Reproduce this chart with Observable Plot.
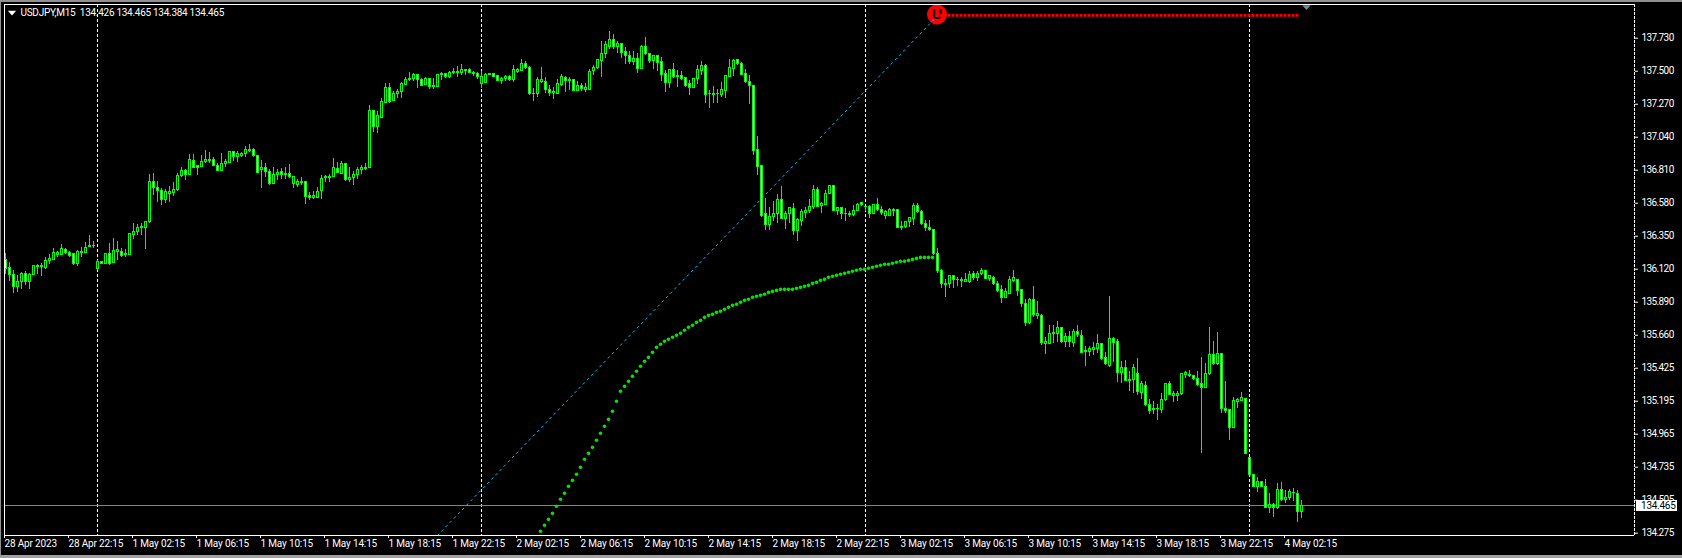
<!DOCTYPE html>
<html><head><meta charset="utf-8">
<script src="https://cdn.jsdelivr.net/npm/d3@7"></script>
<script src="https://cdn.jsdelivr.net/npm/@observablehq/plot@0.6"></script>
<style>
html,body{margin:0;padding:0;background:#000;overflow:hidden}
#wrap{position:relative;width:1682px;height:558px}
#edge{position:absolute;left:0;top:0;width:1682px;height:558px;box-sizing:border-box;border-top:2px solid #909090;border-left:1px solid #909090;border-bottom:3px solid #a0a0a0;pointer-events:none}
svg{display:block}
g[aria-label="y-axis tick label"],g[aria-label="bid label"]{letter-spacing:-0.6px}
g[aria-label="x-axis tick label"]{letter-spacing:-0.16px}
</style></head><body><div id="wrap"><div id="edge"></div></div>
<script>
const open=[
136.186,136.130,136.083,135.995,136.032,136.088,136.032,136.083,136.135,136.135,
136.125,136.176,136.186,136.221,136.218,136.255,136.232,136.223,136.153,136.232,
136.232,136.274,136.279,136.121,136.172,136.158,136.228,136.162,136.239,136.241,
136.216,136.218,136.358,136.381,136.404,136.409,136.446,136.725,136.687,136.664,
136.599,136.646,136.650,136.674,136.771,136.808,136.776,136.873,136.836,136.832,
136.869,136.871,136.883,136.841,136.808,136.855,136.859,136.934,136.901,136.910,
136.920,136.941,136.948,136.910,136.813,136.827,136.799,136.715,136.776,136.799,
136.778,136.785,136.711,136.706,136.718,136.725,136.627,136.618,136.618,136.664,
136.755,136.757,136.762,136.820,136.785,136.850,136.739,136.757,136.776,136.813,
136.818,136.822,137.222,137.110,137.175,137.278,137.380,137.291,137.338,137.352,
137.403,137.436,137.445,137.477,137.440,137.403,137.445,137.387,137.389,137.473,
137.482,137.463,137.487,137.489,137.487,137.501,137.505,137.491,137.482,137.412,
137.417,137.477,137.482,137.468,137.431,137.445,137.463,137.436,137.496,137.501,
137.552,137.524,137.338,137.338,137.426,137.426,137.370,137.347,137.343,137.403,
137.454,137.431,137.436,137.361,137.398,137.366,137.366,137.501,137.519,137.570,
137.617,137.672,137.719,137.668,137.691,137.631,137.607,137.561,137.584,137.514,
137.672,137.621,137.570,137.603,137.561,137.482,137.417,137.510,137.459,137.468,
137.454,137.408,137.380,137.445,137.501,137.533,137.338,137.333,137.338,137.333,
137.361,137.459,137.514,137.575,137.552,137.482,137.426,137.398,136.948,136.836,
136.506,136.427,136.483,136.506,136.599,136.469,136.506,136.543,136.385,136.455,
136.511,136.525,136.553,136.669,136.562,136.571,136.646,136.697,136.525,136.548,
136.504,136.499,136.497,136.525,136.583,136.553,136.557,136.502,136.569,136.534,
136.488,136.490,136.525,136.530,136.409,136.413,136.446,136.469,136.562,136.520,
136.437,136.409,136.395,136.228,136.111,136.011,136.014,136.074,136.042,136.039,
136.032,136.028,136.088,136.056,136.088,136.107,136.051,136.060,136.018,135.977,
135.921,135.949,136.037,136.046,135.972,135.879,135.744,135.907,135.795,135.795,
135.600,135.600,135.668,135.665,135.707,135.614,135.651,135.605,135.679,135.656,
135.540,135.544,135.558,135.563,135.596,135.498,135.442,135.637,135.610,135.396,
135.433,135.340,135.345,135.391,135.256,135.308,135.177,135.140,135.143,135.140,
135.205,135.322,135.238,135.238,135.247,135.384,135.375,135.373,135.356,135.321,
135.294,135.387,135.521,135.456,135.531,135.147,135.136,135.015,135.196,135.201,
135.215,134.806,134.685,134.601,134.634,134.601,134.453,134.480,134.453,134.583,
134.508,134.522,134.557,134.555,134.425];
const close=[
136.121,136.079,135.995,136.032,136.088,136.032,136.083,136.139,136.144,136.144,
136.176,136.193,136.232,136.235,136.260,136.232,136.214,136.153,136.241,136.241,
136.269,136.283,136.283,136.172,136.158,136.228,136.153,136.246,136.251,136.214,
136.223,136.362,136.381,136.409,136.411,136.446,136.729,136.687,136.664,136.604,
136.660,136.660,136.674,136.773,136.808,136.776,136.878,136.827,136.827,136.869,
136.883,136.883,136.841,136.808,136.855,136.864,136.934,136.901,136.920,136.924,
136.948,136.948,136.906,136.794,136.827,136.799,136.715,136.780,136.794,136.776,
136.787,136.762,136.762,136.725,136.725,136.622,136.618,136.627,136.660,136.752,
136.762,136.766,136.822,136.790,136.850,136.739,136.757,136.780,136.813,136.822,
136.827,137.226,137.110,137.185,137.282,137.380,137.287,137.343,137.357,137.408,
137.442,137.447,137.477,137.440,137.398,137.449,137.389,137.394,137.477,137.482,
137.463,137.489,137.496,137.496,137.505,137.505,137.487,137.482,137.459,137.459,
137.477,137.482,137.463,137.431,137.449,137.463,137.440,137.505,137.505,137.552,
137.524,137.338,137.343,137.436,137.436,137.366,137.347,137.352,137.408,137.463,
137.431,137.436,137.361,137.398,137.375,137.380,137.496,137.524,137.575,137.621,
137.686,137.719,137.668,137.691,137.626,137.607,137.561,137.584,137.514,137.672,
137.621,137.570,137.603,137.556,137.477,137.417,137.510,137.459,137.468,137.449,
137.394,137.380,137.449,137.505,137.533,137.333,137.340,137.343,137.343,137.366,
137.468,137.519,137.570,137.552,137.473,137.422,137.394,136.943,136.832,136.488,
136.427,136.483,136.506,136.599,136.469,136.506,136.548,136.385,136.460,136.516,
136.525,136.557,136.669,136.557,136.576,136.646,136.697,136.525,136.548,136.502,
136.506,136.506,136.525,136.571,136.567,136.557,136.502,136.571,136.530,136.511,
136.516,136.530,136.530,136.404,136.413,136.451,136.478,136.562,136.516,136.432,
136.404,136.395,136.223,136.107,136.018,136.018,136.074,136.046,136.046,136.046,
136.046,136.083,136.056,136.088,136.111,136.051,136.070,136.018,135.967,135.921,
135.958,136.042,136.056,135.967,135.879,135.744,135.907,135.800,135.805,135.605,
135.610,135.670,135.672,135.707,135.614,135.651,135.610,135.679,135.661,135.535,
135.547,135.563,135.568,135.596,135.493,135.456,135.637,135.605,135.396,135.433,
135.340,135.349,135.433,135.261,135.317,135.173,135.131,135.147,135.147,135.210,
135.322,135.243,135.247,135.252,135.391,135.394,135.384,135.354,135.312,135.294,
135.391,135.521,135.461,135.531,135.145,135.131,135.015,135.201,135.205,135.219,
134.834,134.685,134.601,134.634,134.601,134.457,134.476,134.457,134.583,134.508,
134.527,134.564,134.562,134.425,134.469];
const high=[
136.228,136.169,136.111,136.074,136.097,136.102,136.093,136.146,136.151,136.158,
136.204,136.223,136.265,136.246,136.293,136.262,136.246,136.228,136.251,136.269,
136.307,136.353,136.316,136.181,136.176,136.232,136.297,136.334,136.316,136.265,
136.255,136.362,136.437,136.432,136.441,136.451,136.780,136.785,136.729,136.680,
136.678,136.697,136.725,136.790,136.827,136.813,136.920,136.920,136.841,136.910,
136.948,136.934,136.901,136.855,136.924,136.887,136.938,136.943,136.938,136.934,
136.976,136.989,136.962,136.915,136.878,136.855,136.818,136.832,136.813,136.822,
136.832,136.850,136.766,136.743,136.757,136.734,136.655,136.660,136.692,136.771,
136.776,136.780,136.892,136.864,136.869,136.855,136.827,136.799,136.832,136.845,
136.855,137.259,137.226,137.222,137.310,137.412,137.412,137.361,137.370,137.422,
137.459,137.491,137.487,137.477,137.449,137.454,137.449,137.449,137.477,137.491,
137.487,137.496,137.519,137.533,137.547,137.514,137.519,137.501,137.491,137.501,
137.487,137.482,137.487,137.473,137.454,137.473,137.468,137.538,137.519,137.580,
137.566,137.533,137.380,137.454,137.528,137.454,137.398,137.389,137.440,137.477,
137.463,137.459,137.440,137.426,137.412,137.412,137.510,137.538,137.580,137.705,
137.705,137.775,137.756,137.705,137.696,137.663,137.635,137.635,137.626,137.677,
137.733,137.621,137.607,137.607,137.593,137.505,137.514,137.552,137.505,137.501,
137.459,137.436,137.449,137.538,137.566,137.547,137.366,137.394,137.375,137.422,
137.473,137.580,137.580,137.584,137.561,137.514,137.468,137.398,137.045,136.836,
136.613,136.553,136.590,136.641,136.697,136.525,136.553,136.576,136.474,136.534,
136.553,136.608,136.706,136.687,136.585,136.669,136.701,136.697,136.548,136.553,
136.543,136.520,136.562,136.581,136.585,136.557,136.562,136.571,136.613,136.557,
136.530,136.543,136.543,136.530,136.451,136.455,136.483,136.581,136.576,136.530,
136.460,136.460,136.395,136.265,136.116,136.046,136.079,136.079,136.065,136.060,
136.088,136.107,136.102,136.102,136.125,136.111,136.079,136.070,136.032,136.004,
135.986,136.070,136.111,136.051,135.972,135.907,135.916,136.000,135.893,135.805,
135.647,135.730,135.730,135.754,135.712,135.675,135.689,135.698,135.726,135.693,
135.582,135.582,135.610,135.665,135.600,135.540,135.930,135.647,135.633,135.480,
135.484,135.405,135.456,135.498,135.340,135.335,135.215,135.196,135.177,135.252,
135.326,135.340,135.270,135.270,135.396,135.405,135.414,135.377,135.405,135.507,
135.466,135.712,135.614,135.679,135.535,135.335,135.140,135.224,135.219,135.261,
135.215,134.806,134.690,134.666,134.643,134.653,134.555,134.490,134.625,134.634,
134.578,134.583,134.592,134.578,134.508];
const low=[
136.083,136.035,135.953,135.958,135.981,136.009,135.981,136.074,136.083,136.069,
136.121,136.153,136.181,136.204,136.214,136.223,136.204,136.144,136.139,136.204,
136.228,136.274,136.265,136.111,136.153,136.153,136.149,136.158,136.181,136.200,
136.200,136.218,136.325,136.353,136.353,136.260,136.441,136.634,136.585,136.567,
136.576,136.585,136.627,136.664,136.762,136.739,136.776,136.820,136.776,136.827,
136.855,136.855,136.836,136.804,136.799,136.832,136.855,136.873,136.864,136.897,
136.901,136.934,136.897,136.790,136.683,136.757,136.701,136.711,136.739,136.748,
136.743,136.752,136.683,136.692,136.701,136.571,136.599,136.608,136.613,136.608,
136.725,136.725,136.757,136.785,136.780,136.734,136.725,136.701,136.748,136.780,
136.808,136.822,137.073,137.068,137.175,137.278,137.278,137.287,137.310,137.310,
137.398,137.431,137.426,137.380,137.394,137.398,137.370,137.370,137.384,137.436,
137.449,137.449,137.477,137.459,137.473,137.473,137.482,137.463,137.445,137.380,
137.412,137.473,137.454,137.426,137.408,137.431,137.431,137.422,137.482,137.496,
137.514,137.329,137.291,137.319,137.412,137.343,137.324,137.305,137.338,137.394,
137.352,137.366,137.357,137.357,137.361,137.352,137.366,137.468,137.514,137.454,
137.589,137.654,137.649,137.621,137.589,137.547,137.547,137.538,137.487,137.510,
137.607,137.552,137.514,137.496,137.431,137.352,137.380,137.449,137.389,137.436,
137.384,137.333,137.380,137.408,137.473,137.278,137.240,137.273,137.278,137.319,
137.310,137.454,137.463,137.542,137.468,137.412,137.268,136.910,136.771,136.483,
136.390,136.390,136.450,136.441,136.464,136.399,136.437,136.358,136.316,136.418,
136.474,136.506,136.539,136.548,136.511,136.567,136.641,136.520,136.492,136.469,
136.455,136.483,136.488,136.520,136.557,136.520,136.474,136.502,136.520,136.497,
136.464,136.488,136.488,136.404,136.390,136.404,136.413,136.423,136.506,136.427,
136.385,136.381,136.218,136.093,135.986,135.921,135.986,135.986,136.000,135.995,
136.028,136.023,136.042,136.032,136.079,136.046,136.032,136.009,135.958,135.879,
135.916,135.944,136.028,135.930,135.856,135.721,135.735,135.781,135.768,135.591,
135.526,135.596,135.605,135.610,135.605,135.572,135.577,135.577,135.642,135.531,
135.442,135.512,135.521,135.531,135.484,135.447,135.433,135.470,135.331,135.321,
135.335,135.270,135.252,135.243,135.210,135.164,135.108,135.108,135.066,135.112,
135.196,135.238,135.191,135.201,135.243,135.359,135.368,135.345,135.303,134.838,
135.289,135.382,135.452,135.452,135.117,135.117,134.927,135.010,135.150,135.196,
134.829,134.680,134.597,134.564,134.597,134.453,134.420,134.392,134.448,134.499,
134.485,134.508,134.499,134.355,134.383];
const trendFirst=134;
const trendDots=[
134.290,134.332,134.373,134.415,134.464,134.513,134.555,134.603,134.645,134.687,
134.736,134.792,134.833,134.875,134.924,134.973,135.022,135.070,135.126,135.196,
135.266,135.300,135.335,135.370,135.405,135.440,135.475,135.502,135.537,135.572,
135.593,135.614,135.628,135.642,135.656,135.670,135.691,135.712,135.726,135.746,
135.760,135.781,135.795,135.802,135.816,135.823,135.837,135.851,135.865,135.872,
135.886,135.900,135.907,135.921,135.928,135.935,135.942,135.955,135.962,135.969,
135.976,135.976,135.976,135.976,135.983,135.990,135.997,136.004,136.018,136.025,
136.039,136.046,136.060,136.067,136.074,136.081,136.088,136.095,136.102,136.109,
136.116,136.116,136.123,136.130,136.137,136.144,136.151,136.151,136.158,136.165,
136.172,136.172,136.178,136.185,136.192,136.199,136.199,136.199,136.199];
const redLevel=137.886, redFirst=233, redLast=323;
const blueLine=[{i:108,p:134.264},{i:233,p:137.886}];
const separators=[23,119,215,311];
const bidPrice=134.465;
const yTickValues=[137.73,137.5,137.27,137.04,136.81,136.58,136.35,136.12,135.89,135.66,135.43,135.2,134.97,134.74,134.51,134.28];
const yTickLabels=["137.730","137.500","137.270","137.040","136.810","136.580","136.350","136.120","135.890","135.660","135.425","135.195","134.965","134.735","134.505","134.275"];
const xTickLabels=["28 Apr 2023","28 Apr 22:15","1 May 02:15","1 May 06:15","1 May 10:15","1 May 14:15","1 May 18:15","1 May 22:15","2 May 02:15","2 May 06:15","2 May 10:15","2 May 14:15","2 May 18:15","2 May 22:15","3 May 02:15","3 May 06:15","3 May 10:15","3 May 14:15","3 May 18:15","3 May 22:15","4 May 02:15"];
const header="USDJPY,M15\u00a0\u00a0134.426 134.465 134.384 134.465";

const n=open.length;
const idx=d3.range(n);
const xTicks=xTickLabels.map((_,k)=>k*16);
const xEnd=407.25,xStart=-0.25,yLo=134.264,yHi=137.965;
const downTri={draw(c,s){const r=Math.sqrt(s);c.moveTo(-r,-r*0.55);c.lineTo(r,-r*0.55);c.lineTo(0,r*0.6);c.closePath();}};
const yMap=new Map(yTickValues.map((v,k)=>[v,yTickLabels[k]]));
const xMap=new Map(xTicks.map((v,k)=>[v,xTickLabels[k]]));
const chart=Plot.plot({
  width:1682,height:558,marginLeft:4,marginRight:48,marginTop:4,marginBottom:23,
  style:{background:"#000",color:"#fff",fontFamily:"Roboto",fontSize:"10px",letterSpacing:"-0.28px"},
  x:{domain:[xStart,xEnd],range:[4,1634],axis:null},
  y:{domain:[yLo,yHi],range:[535,4],axis:null},
  marks:[
    Plot.ruleX(separators,{stroke:"#fff",strokeWidth:1,strokeDasharray:"3 2",shapeRendering:"crispEdges"}),
    Plot.ruleY([bidPrice],{stroke:"#778899",strokeWidth:1,dy:-1,shapeRendering:"crispEdges"}),
    Plot.dot(trendDots,{x:(d,k)=>trendFirst+k,y:d=>d,r:1.8,fill:"#00e400",dx:-1,dy:-0.5}),
    Plot.ruleX(idx,{x:i=>i,y1:i=>low[i],y2:i=>high[i],stroke:"#00ff00",strokeWidth:1,shapeRendering:"crispEdges"}),
    Plot.rect(idx,{filter:i=>close[i]<open[i],x1:i=>i-0.25,x2:i=>i+0.25,y1:i=>open[i],y2:i=>close[i],dx:0.5,fill:"#fff",stroke:"#00ff00",strokeWidth:1,shapeRendering:"crispEdges"}),
    Plot.rect(idx,{filter:i=>close[i]>=open[i],x1:i=>i-0.25,x2:i=>i+0.25,y1:i=>open[i],y2:i=>close[i],dx:0.5,fill:"#000",stroke:"#00ff00",strokeWidth:1,shapeRendering:"crispEdges"}),
    Plot.dot([blueLine[1]],{x:"i",y:()=>137.895,r:10,fill:"#ff0000",dx:-0.5}),
    Plot.text([blueLine[1]],{x:"i",y:()=>137.895,text:()=>"U",fill:"#000",fontWeight:"bold",fontSize:14,fontFamily:"Liberation Sans",dx:-0.5}),
    Plot.line(blueLine,{x:"i",y:"p",stroke:"#00bfff",strokeWidth:1,strokeDasharray:"2 4"}),
    Plot.dot(d3.range(redFirst,redLast+1),{x:d=>d,y:()=>redLevel,symbol:"square",r:1.6,fill:"#ff0000",dx:-0.5,dy:-0.5}),
    Plot.ruleY([yHi],{stroke:"#fff",strokeWidth:1,shapeRendering:"crispEdges"}),
    Plot.ruleY([yLo],{stroke:"#fff",strokeWidth:1,shapeRendering:"crispEdges"}),
    Plot.ruleX([xStart],{stroke:"#fff",strokeWidth:1,shapeRendering:"crispEdges"}),
    Plot.ruleX([xEnd],{stroke:"#fff",strokeWidth:1,strokeDasharray:"3 1",shapeRendering:"crispEdges"}),
    Plot.dot([{i:325.25,p:137.944}],{x:"i",y:"p",symbol:downTri,r:2.4,fill:"#778899"}),
    Plot.axisX({ticks:xTicks,tickFormat:d=>xMap.get(d),tickSize:3,tickPadding:1,textAnchor:"start",dx:-1,label:null,anchor:"bottom",fontSize:10}),
    Plot.axisY({ticks:yTickValues,tickFormat:d=>yMap.get(d),tickSize:3,tickPadding:4,label:null,anchor:"right",fontSize:10}),
    Plot.ruleY([bidPrice],{x1:xEnd+0.5,x2:xEnd+10.7,stroke:"#fff",strokeWidth:11,dy:-1,shapeRendering:"crispEdges"}),
    Plot.text([bidPrice],{y:d=>d,x:()=>xEnd+1.65,dy:-1,text:d=>d.toFixed(3),fill:"#000",textAnchor:"start",fontSize:10,ariaLabel:"bid label"}),
    Plot.text([header],{frameAnchor:"top-left",dx:16,dy:4,lineAnchor:"top",textAnchor:"start",fill:"#fff",fontSize:10,text:d=>d}),
    Plot.dot([0],{frameAnchor:"top-left",dx:7.5,dy:8.6,symbol:downTri,r:2.3,fill:"#fff"})
  ]
});
document.getElementById("wrap").prepend(chart);
</script></body></html>
